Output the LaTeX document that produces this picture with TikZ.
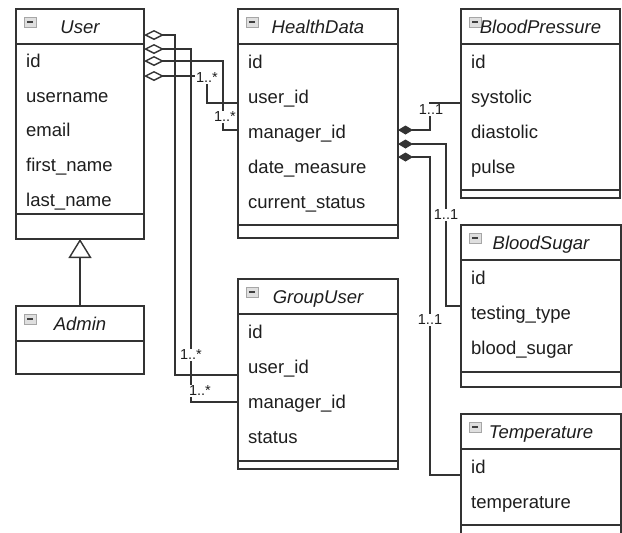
\documentclass[tikz,border=0pt]{standalone}
\usepackage{fontspec}
\setmainfont{Liberation Sans}
\usetikzlibrary{positioning, arrows.meta, calc}

\definecolor{linecol}{HTML}{333333}
\definecolor{txtcol}{HTML}{1E1E1E}

\begin{document}
\begin{tikzpicture}[x=1pt, y=-1pt,
    classbox/.style={draw=linecol, line width=1.4pt, fill=white, anchor=north west, inner sep=0pt, outer sep=0pt},
    sep/.style={draw=linecol, line width=1.4pt},
    title/.style={anchor=base, font=\fontsize{18.5}{22}\selectfont\itshape, text=txtcol, inner sep=0pt},
    attr/.style={anchor=base west, font=\fontsize{18.5}{22}\selectfont, text=txtcol, inner sep=0pt},
    collapse/.style={draw=gray!70, fill=gray!25, line width=0.6pt, minimum width=12pt, minimum height=10pt, inner sep=0pt,
        path picture={\draw[line width=1.3pt, black!75] ([xshift=3pt]path picture bounding box.west) -- ([xshift=-3pt]path picture bounding box.east);}},
    mult/.style={fill=white, inner sep=1.5pt, font=\fontsize{14.5}{16}\selectfont, text=txtcol},
    conn/.style={draw=linecol, line width=1.4pt},
    agg/.style={conn, {Diamond[open, length=20pt, width=10pt]}-},
    comp/.style={conn, {Diamond[length=15pt, width=9pt]}-},
    gen/.style={conn, -{Triangle[open, length=19pt, width=23pt]}}
]

    % Rozměry obrázku
    \useasboundingbox (0,0) rectangle (622,533);
    \clip (0,0) rectangle (622,533);
    \fill[white] (0,0) rectangle (622,533);

    % 1. Třídy (rámeček, záhlaví, ikona, název)
    \foreach \nm/\px/\py/\w/\h/\s/\tit in {user/16/9/128/230/205/User, admin/16/306/128/68/35/Admin, healthdata/238/9/160/229/216/HealthData, bloodpressure/461/9/159/189/181/BloodPressure, bloodsugar/461/225/160/162/147/BloodSugar, temperature/461/414/160/140/111/Temperature, groupuser/238/279/160/190/182/GroupUser} {
        \node[classbox, minimum width=\w*1pt, minimum height=\h*1pt] (\nm) at (\px,\py) {};
        \draw[sep] ([yshift=-35pt]\nm.north west) -- ([yshift=-35pt]\nm.north east)
                   ([yshift=-\s*1pt]\nm.north west) -- ([yshift=-\s*1pt]\nm.north east);
        \node[collapse] (\nm-ic) at ([xshift=14pt, yshift=-13pt]\nm.north west) {};
        \node[title] (\nm-tt) at ([yshift=-24pt]\nm.north) {\tit};
    }

    % 2. Atributy
    \foreach \t [count=\i] in {id, username, email, first\_name, last\_name}
        \node[attr] (user-\i) at ([xshift=10pt, yshift=-24pt-34.6pt*\i]user.north west) {\t};
    \foreach \t [count=\i] in {id, user\_id, manager\_id, date\_measure, current\_status}
        \node[attr] (healthdata-\i) at ([xshift=10pt, yshift=-24pt-35pt*\i]healthdata.north west) {\t};
    \foreach \t [count=\i] in {id, systolic, diastolic, pulse}
        \node[attr] (bloodpressure-\i) at ([xshift=10pt, yshift=-24pt-35pt*\i]bloodpressure.north west) {\t};
    \foreach \t [count=\i] in {id, testing\_type, blood\_sugar}
        \node[attr] (bloodsugar-\i) at ([xshift=10pt, yshift=-24pt-35pt*\i]bloodsugar.north west) {\t};
    \foreach \t [count=\i] in {id, temperature}
        \node[attr] (temperature-\i) at ([xshift=10pt, yshift=-24pt-35pt*\i]temperature.north west) {\t};
    \foreach \t [count=\i] in {id, user\_id, manager\_id, status}
        \node[attr] (groupuser-\i) at ([xshift=10pt, yshift=-24pt-35pt*\i]groupuser.north west) {\t};

    % 3. Dědičnost
    \draw[gen] (admin.north) -- (user.south);

    % 4. Agregace z User
    \draw[agg] ([yshift=-26pt]user.north east) -- ++(31,0) |- ([yshift=-2pt]groupuser-2.base west -| groupuser.west);
    \draw[agg] ([yshift=-40pt]user.north east) -- ++(47,0) |- ([yshift=6pt]groupuser-3.base west -| groupuser.west);
    \draw[agg] ([yshift=-52pt]user.north east) -- ++(79,0) |- ([yshift=8pt]healthdata-3.base west -| healthdata.west);
    \draw[agg] ([yshift=-67pt]user.north east) -- ++(63,0) |- (healthdata-2.base west -| healthdata.west);

    % 5. Kompozice z HealthData
    \draw[comp] ([yshift=-121pt]healthdata.north east) -- ++(32,0) |- (bloodpressure-2.base west -| bloodpressure.west);
    \draw[comp] ([yshift=-135pt]healthdata.north east) -- ++(48,0) |- ([yshift=13pt]bloodsugar-2.base west -| bloodsugar.west);
    \draw[comp] ([yshift=-148pt]healthdata.north east) -- ++(32,0) |- ([yshift=-2pt]temperature-1.base west -| temperature.west);

    % 6. Násobnosti
    \foreach \nm/\px/\py/\lab in {mA/191/355/1..*, mB/200/391/1..*, mC/225/117/1..*, mD/207/78/1..*, mE/431/110/1..1, mF/446/215/1..1, mG/430/320/1..1}
        \node[mult] (\nm) at (\px,\py) {\lab};

\end{tikzpicture}
\end{document}
